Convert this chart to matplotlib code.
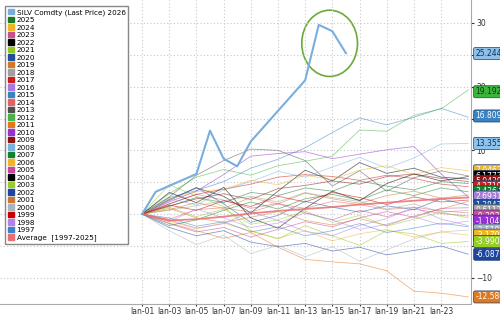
import matplotlib.pyplot as plt
from matplotlib.patches import Patch, Ellipse

# day of January for each point
days = [1, 3, 5, 7, 9, 11, 13, 15, 17, 19, 21, 23, 25]

silv_days = [1, 2, 5, 6, 7, 8, 9, 13, 14, 15, 16]
silv_2026 = [0, 3.5, 6.3, 13.1, 8.7, 7.5, 11.4, 21.0, 29.7, 28.7, 25.2445]

years = [2025, 2024, 2023, 2022, 2021, 2020, 2019, 2018, 2017, 2016, 2015, 2014, 2013, 2012,
         2011, 2010, 2009, 2008, 2007, 2006, 2005, 2004, 2003, 2002, 2001, 2000, 1999, 1998, 1997]

y2025 = [0, 1.2, 2.6, 1.8, 3.4, 2.9, 4.1, 3.6, 5.2, 4.4, 3.8, 5.1, 4.8]
y2024 = [0, -1.1, -2.3, -1.4, -2.7, -3.8, -2.6, -4.2, -3.1, -2.4, -3.6, -2.8, -3.3]
y2023 = [0, 1.6, 3.1, 2.2, 0.9, 1.7, 0.2, -0.9, 0.6, -0.4, 0.8, 0.1, -0.3]
y2022 = [0, 2.3, 4.1, 2.8, 0.2, 3.6, 6.9, 5.2, 8.1, 6.4, 7.2, 5.8, 5.5]
y2021 = [0, 4.6, 2.8, 1.2, -2.6, -3.9, -1.8, -3.4, -4.9, -2.6, -3.1, -4.6, -4.3]
y2020 = [0, 2.1, 4.2, 1.6, -1.3, -0.2, 2.0, 1.1, 0.3, 1.3, 0.7, 2.4, 1.4]
y2019 = [0, 0.9, -0.6, -1.3, -0.5, 0.4, -1.0, -1.7, -0.7, -1.8, -0.3, 0.8, 2.0]
y2018 = [0, 0.6, 1.3, 2.1, 2.8, 1.9, 3.4, 2.6, 2.0, 0.8, 1.6, 0.3, 0.6]
y2017 = [0, 1.6, 3.1, 3.9, 4.7, 5.8, 6.2, 5.9, 5.3, 6.1, 5.6, 4.7, 4.3]
y2016 = [0, -0.9, -2.2, -1.5, 0.4, -1.0, -2.7, -3.4, -1.8, -0.7, 1.1, -0.8, -1.8]
y2015 = [0, 2.6, 3.7, 5.1, 7.2, 8.6, 10.4, 12.8, 15.1, 14.0, 15.2, 16.6, 15.2]
y2014 = [0, -0.8, 0.7, 1.0, 0.3, 1.6, 0.9, 2.0, 1.5, 0.7, 1.1, 0.5, 0.2]
y2013 = [0, 2.7, 6.1, 8.4, 10.2, 10.0, 8.4, 4.4, 6.8, 3.6, 5.7, 6.8, 6.0]
y2012 = [0, 3.2, 5.8, 7.0, 6.1, 7.6, 8.3, 9.1, 13.2, 13.0, 15.5, 16.5, 19.5]
y2011 = [0, -1.4, -2.6, -3.8, -2.9, -5.2, -7.1, -7.5, -7.8, -8.9, -12.1, -12.4, -13.0]
y2010 = [0, 1.9, 3.6, 6.2, 9.1, 9.5, 9.8, 8.7, 9.4, 10.1, 10.6, 6.3, 2.7]
y2009 = [0, 1.3, 2.4, 3.2, 2.3, 4.0, 4.5, 5.2, 4.7, 5.9, 6.3, 5.6, 5.1]
y2008 = [0, 2.5, 1.4, 3.8, 5.1, 6.7, 5.8, 7.4, 8.9, 7.2, 8.8, 11.0, 11.1]
y2007 = [0, -1.8, -0.9, 0.6, 1.9, 0.8, 2.4, 3.1, 2.2, 3.8, 2.9, 4.1, 3.5]
y2006 = [0, 2.4, 3.5, 3.9, 5.3, 4.6, 6.1, 5.4, 6.9, 7.6, 6.2, 7.3, 6.8]
y2005 = [0, -1.5, -2.8, -2.1, -3.6, -2.4, -1.2, -2.0, -0.6, 0.4, -0.5, 0.9, 1.0]
y2004 = [0, 3.4, 1.8, 4.2, -0.6, -2.2, 0.9, 3.6, 2.1, 4.8, 6.3, 5.2, 5.9]
y2003 = [0, 1.1, -0.4, 0.8, -1.6, -0.9, 0.5, -1.3, -0.2, -1.9, -0.8, 0.3, -0.6]
y2002 = [0, -2.1, -3.4, -2.6, -4.4, -5.1, -4.6, -5.8, -5.2, -6.4, -5.7, -5.0, -6.3]
y2001 = [0, 0.7, 1.8, 0.9, 2.6, 1.6, 3.3, 2.4, 1.7, 2.9, 3.6, 2.5, 3.0]
y2000 = [0, -2.6, -4.8, -3.3, -6.2, -4.9, -6.7, -5.1, -7.4, -5.6, -3.9, -2.8, -2.5]
y1999 = [0, 1.4, 0.6, 2.1, 1.2, 2.8, 1.9, 3.4, 2.6, 1.5, 2.7, 1.9, 2.2]
y1998 = [0, -1.2, 0.8, -0.6, -2.1, -1.4, 0.2, -0.9, -2.4, -1.6, -0.4, -1.7, -1.1]
y1997 = [0, -0.6, -1.9, -1.2, -2.8, -2.0, -3.4, -2.6, -1.5, -2.9, -2.2, -1.4, -2.0]
average = [0, -1.0, -0.8, -0.4, 0.1, 0.5, 0.8, 1.1, 1.5, 1.8, 2.1, 2.4, 2.6]

series = [y2025, y2024, y2023, y2022, y2021, y2020, y2019, y2018, y2017, y2016, y2015, y2014,
          y2013, y2012, y2011, y2010, y2009, y2008, y2007, y2006, y2005, y2004, y2003, y2002,
          y2001, y2000, y1999, y1998, y1997]

colors = ['#1a7a2a', '#f0b428', '#c8508c', '#000000', '#94c81e', '#1f4f9e', '#d27828', '#a0a0a0',
          '#c81e1e', '#a77be0', '#3a82c0', '#e06464', '#505050', '#46b446', '#e07820', '#9632d2',
          '#8c1414', '#78b4dc', '#14822d', '#f0b428', '#c8469b', '#000000', '#96cd28', '#1e46a0',
          '#c87832', '#aab4be', '#c80000', '#b482e6', '#3c82c8']

# right-hand value labels: text, position, background, text colour
lab_text = ['25.2445', '19.1927', '16.8098', '13.3552', '7.0462', '6.1777', '5.0439', '4.2710',
            '3.436', '2.6931', '1.3847', '0.6112', '-0.3935', '-1.1046', '-2.5103', '-3.1705',
            '-3.9908', '-6.087', '-12.5865']
lab_pos = [25.2, 19.2, 15.4, 11.1, 6.8, 5.9, 5.1, 4.3, 3.5, 2.7, 1.4, 0.6, -0.3, -1.1, -2.5,
           -3.3, -4.3, -6.3, -13.0]
lab_bg = ['#8fc0e8', '#3cb43c', '#3a82c0', '#8cc4ec', '#f0b428', '#000000', '#8c1414', '#c81e1e',
          '#14822d', '#a77be0', '#1e50a0', '#a0a0a0', '#d24ba0', '#9632d2', '#aab4be', '#f0b428',
          '#96cd28', '#1e46a0', '#e07820']
lab_fg = ['#10306a', '#0c3a0c', 'white', '#10306a', 'white', 'white', 'white', 'white', 'white',
          'white', 'white', 'white', 'white', 'white', 'white', 'white', 'white', 'white', 'white']

xtick_days = [1, 3, 5, 7, 9, 11, 13, 15, 17, 19, 21, 23]
xtick_labels = ['Jan-%02d' % d for d in xtick_days]

fig = plt.figure(figsize=(5, 3.14), dpi=100)
ax = fig.add_axes([0.0, 0.032, 0.942, 0.968])

for ys, c in zip(series, colors):
    ax.plot(days, ys, color=c, lw=0.6, alpha=0.55)
ax.plot(days, average, color='#e87070', lw=1.3, alpha=0.85)
ax.plot(silv_days, silv_2026, color='#7aaedc', lw=1.5)

ax.add_patch(Ellipse((14.8, 26.8), 4.1, 10.4, fill=False, edgecolor='#6aaa3a', lw=1.2))

ax.set_xlim(-9.45, 25.2)
ax.set_ylim(-14.1, 33.6)
ax.set_xticks(xtick_days)
ax.set_xticklabels(xtick_labels)
ax.set_yticks(range(-10, 35, 5))
ax.yaxis.tick_right()
ax.tick_params(axis='y', direction='out', length=2.5, pad=1.5, labelsize=5.5, colors='#333333')
ax.tick_params(axis='x', direction='out', length=1.5, pad=0.5, labelsize=5.5, colors='#333333')
ax.grid(True, color='#c8c8c8', ls=(0, (1, 2)), lw=0.8)
for s in ['left', 'top']:
    ax.spines[s].set_visible(False)
ax.spines['right'].set_color('#aaaaaa')
ax.spines['bottom'].set_color('#aaaaaa')

for t, p, bg, fg in zip(lab_text, lab_pos, lab_bg, lab_fg):
    ax.annotate(t, xy=(1.0, p), xycoords=('axes fraction', 'data'), xytext=(3, 0),
                textcoords='offset points', ha='left', va='center', fontsize=5.5, color=fg,
                annotation_clip=False, zorder=5,
                bbox=dict(boxstyle='round,pad=0.2', fc=bg, ec='#1e3c6e', lw=0.5))

handles = [Patch(color='#7aaedc', label='SILV Comdty (Last Price) 2026')]
handles += [Patch(color=c, label=str(y)) for y, c in zip(years, colors)]
handles.append(Patch(color='#e87070', label='Average  [1997-2025]'))
leg = ax.legend(handles=handles, loc='upper left', bbox_to_anchor=(0.003, 0.992), fontsize=5.2,
                labelspacing=0.17, handlelength=0.8, handleheight=0.8, handletextpad=0.4,
                borderpad=0.4, fancybox=False, framealpha=1, edgecolor='#888888')
leg.get_frame().set_linewidth(1.0)

fig.savefig('out.png', dpi=100)
